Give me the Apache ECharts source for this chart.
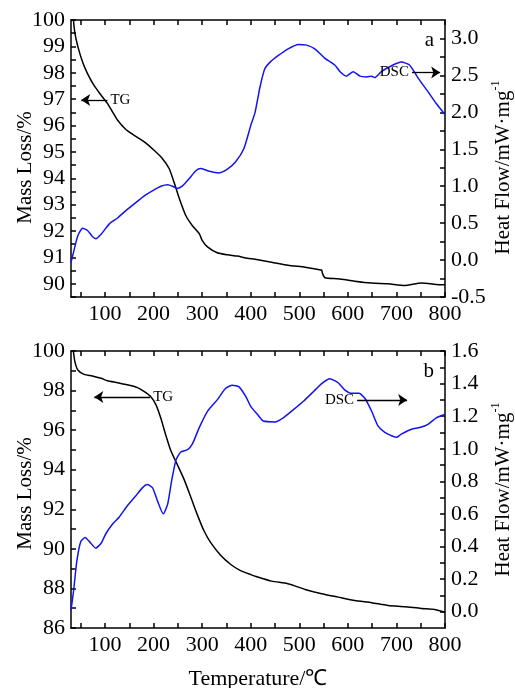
<!DOCTYPE html>
<html>
<head>
<meta charset="utf-8"/>
<title>TG-DSC</title>
<script src="https://cdn.jsdelivr.net/npm/echarts@6/dist/echarts.min.js"></script>
<style>
html,body{margin:0;padding:0;background:#fff}
#main{width:515px;height:688px}
</style>
</head>
<body>
<div id="main"></div>
<script>
// tick values
var tempLabels = [100,200,300,400,500,600,700,800];
var tempTicks = [50,100,150,200,250,300,350,400,450,500,550,600,650,700,750,800];
var massLabelsA = [90,91,92,93,94,95,96,97,98,99,100];
var massTicksA = [89.5,90,90.5,91,91.5,92,92.5,93,93.5,94,94.5,95,95.5,96,96.5,97,97.5,98,98.5,99,99.5,100];
var heatLabelsA = [-0.5,0,0.5,1.0,1.5,2.0,2.5,3.0];
var heatTicksA = [-0.5,-0.25,0,0.25,0.5,0.75,1.0,1.25,1.5,1.75,2.0,2.25,2.5,2.75,3.0];
var massLabelsB = [86,88,90,92,94,96,98,100];
var massTicksB = [86,87,88,89,90,91,92,93,94,95,96,97,98,99,100];
var heatLabelsB = [0,0.2,0.4,0.6,0.8,1.0,1.2,1.4,1.6];
var heatTicksB = [0,0.1,0.2,0.3,0.4,0.5,0.6,0.7,0.8,0.9,1.0,1.1,1.2,1.3,1.4,1.5,1.6];

// panel a - TG (mass loss, %)
var tgaT = [35,38,44,54,64,78,92,105,116,126,143,160,181,201,218,232,242,253,266,280,294,300,311,331,352,372,393,409,443,477,512,539,546,548,553,580,614,649,683,717,751,796,800];
var tgaV = [100,99.5,99.0,98.4,97.97,97.5,97.15,96.84,96.5,96.2,95.85,95.63,95.38,95.06,94.75,94.37,93.86,93.23,92.6,92.2,91.9,91.65,91.4,91.18,91.1,91.05,90.97,90.93,90.82,90.7,90.63,90.54,90.52,90.38,90.23,90.19,90.1,90.03,90.0,89.94,90.03,89.96,89.97];
// panel a - DSC (heat flow, mW/mg)
var dscaT = [30,35,44,54,64,74,81,92,109,126,143,160,181,201,215,229,239,249,259,273,287,297,311,335,352,369,386,400,409,419,429,440,457,477,498,515,532,553,573,584,597,611,625,638,649,655,669,690,710,727,745,765,782,800];
var dscaV = [-0.03,0.1,0.33,0.43,0.4,0.32,0.29,0.35,0.49,0.57,0.67,0.76,0.87,0.95,1.0,1.02,1.0,0.97,1.0,1.1,1.21,1.24,1.21,1.18,1.23,1.33,1.51,1.82,2.0,2.34,2.59,2.68,2.77,2.86,2.92,2.91,2.86,2.73,2.64,2.55,2.49,2.55,2.49,2.48,2.49,2.47,2.55,2.63,2.68,2.64,2.46,2.28,2.12,1.97];

// panel b - TG
var tgbT = [35,38,44,57,74,92,105,126,146,167,181,194,205,215,225,235,249,263,276,290,304,318,338,359,379,400,413,443,477,512,546,580,614,649,683,717,751,779,796,800];
var tgbV = [99.97,99.46,99.04,98.82,98.74,98.62,98.5,98.4,98.29,98.15,97.95,97.7,97.28,96.6,95.76,95.0,94.25,93.5,92.66,91.73,90.9,90.3,89.68,89.21,88.9,88.7,88.59,88.37,88.24,87.95,87.73,87.56,87.39,87.28,87.14,87.08,86.99,86.94,86.82,86.8];
// panel b - DSC
var dscbT = [30,35,42,50,59,68,81,92,102,116,129,146,163,177,187,198,208,220,229,237,246,256,270,280,294,311,331,348,362,376,390,400,414,426,450,467,488,508,529,546,563,580,594,608,623,635,649,662,676,690,700,710,731,748,765,782,800];
var dscbV = [0.01,0.12,0.31,0.43,0.455,0.43,0.39,0.42,0.48,0.54,0.58,0.65,0.71,0.76,0.78,0.76,0.68,0.6,0.66,0.8,0.93,0.98,0.995,1.03,1.13,1.23,1.3,1.37,1.39,1.38,1.32,1.26,1.21,1.17,1.165,1.19,1.24,1.29,1.35,1.4,1.43,1.405,1.36,1.34,1.34,1.31,1.23,1.14,1.1,1.08,1.07,1.09,1.12,1.13,1.15,1.19,1.21];

function pairs(xs, ys) {
    var out = [];
    for (var i = 0; i < xs.length; i++) out.push([xs[i], ys[i]]);
    return out;
}

var FONT = 'Liberation Serif';
var lineSty = {color: '#000', width: 1.5};

function xAxisFor(grid, bottom) {
    return {
        type: 'value', gridIndex: grid, min: 30, max: 800,
        position: bottom ? 'bottom' : 'top',
        name: (bottom && grid == 1) ? 'Temperature/℃' : '',
        nameLocation: 'middle', nameGap: 40, nameMoveOverlap: false,
        nameTextStyle: {fontFamily: FONT, fontSize: 22, color: '#000'},
        axisLine: {show: true, onZero: false, lineStyle: lineSty},
        axisTick: {show: true, inside: true, length: 5, customValues: tempTicks, lineStyle: lineSty},
        axisLabel: {show: bottom, margin: 6, customValues: tempLabels, fontFamily: FONT, fontSize: 22, color: '#000'},
        splitLine: {show: false}
    };
}

// shift = extra padding on the text's far end, moves the rotated name down the page
function yAxisFor(grid, side, min, max, labels, ticks, digits, name, shift) {
    return {
        type: 'value', gridIndex: grid, min: min, max: max, position: side,
        name: name, nameLocation: 'middle', nameRotate: 90, nameMoveOverlap: false,
        nameGap: side == 'left' ? 35 : 45,
        nameTextStyle: {fontFamily: FONT, fontSize: 21, color: '#000', padding: [0, shift, 0, 0],
            rich: {n: {fontFamily: FONT, fontSize: 21, color: '#000'},
                   s: {fontFamily: FONT, fontSize: 12, color: '#000', padding: [0, 0, 14, 0]}}},
        axisLine: {show: true, onZero: false, lineStyle: lineSty},
        axisTick: {show: true, inside: true, length: 5, customValues: ticks, lineStyle: lineSty},
        axisLabel: {margin: 6, customValues: labels, fontFamily: FONT, fontSize: 22, color: '#000',
            formatter: function (v) { return v.toFixed(digits); }},
        splitLine: {show: false}
    };
}

function arrowLine(from, to, text) {
    return {
        silent: true, animation: false, symbol: ['none', 'arrow'], symbolSize: 9,
        lineStyle: {color: '#000', width: 1.3, type: 'solid'},
        label: {show: true, position: 'start', formatter: text, fontFamily: FONT, fontSize: 15, color: '#000', distance: 3},
        data: [[{coord: from}, {coord: to}]]
    };
}

var heatName = '{n|Heat Flow/mW·mg}{s|-1}';

var chart = echarts.init(document.getElementById('main'));
chart.setOption({
    backgroundColor: '#fff',
    animation: false,
    title: [
        {text: 'a', right: 76, top: 25, textStyle: {fontFamily: FONT, fontSize: 21, fontWeight: 'normal', color: '#000'}},
        {text: 'b', right: 76, top: 356, textStyle: {fontFamily: FONT, fontSize: 21, fontWeight: 'normal', color: '#000'}}
    ],
    grid: [
        {left: 71, top: 20, width: 374, height: 277, outerBoundsMode: 'none'},
        {left: 71, top: 351, width: 374, height: 277, outerBoundsMode: 'none'}
    ],
    xAxis: [xAxisFor(0, true), xAxisFor(0, false), xAxisFor(1, true), xAxisFor(1, false)],
    yAxis: [
        yAxisFor(0, 'left', 89.5, 100, massLabelsA, massTicksA, 0, 'Mass Loss/%', 18),
        yAxisFor(0, 'right', -0.5, 3.25, heatLabelsA, heatTicksA, 1, heatName, 18),
        yAxisFor(1, 'left', 86, 100, massLabelsB, massTicksB, 0, 'Mass Loss/%', 8),
        yAxisFor(1, 'right', -0.1, 1.6, heatLabelsB, heatTicksB, 1, heatName, 0)
    ],
    series: [
        {type: 'line', name: 'TG a', xAxisIndex: 0, yAxisIndex: 0, data: pairs(tgaT, tgaV),
         showSymbol: false, smooth: 0.2, lineStyle: {color: '#000', width: 1.5},
         markLine: arrowLine([105, 96.97], [51, 96.97], 'TG')},
        {type: 'line', name: 'DSC a', xAxisIndex: 0, yAxisIndex: 1, data: pairs(dscaT, dscaV),
         showSymbol: false, smooth: 0.2, lineStyle: {color: '#1414f0', width: 1.5},
         markLine: arrowLine([732, 2.54], [790, 2.54], 'DSC')},
        {type: 'line', name: 'TG b', xAxisIndex: 2, yAxisIndex: 2, data: pairs(tgbT, tgbV),
         showSymbol: false, smooth: 0.2, lineStyle: {color: '#000', width: 1.5},
         markLine: arrowLine([193, 97.68], [78, 97.68], 'TG')},
        {type: 'line', name: 'DSC b', xAxisIndex: 2, yAxisIndex: 3, data: pairs(dscbT, dscbV),
         showSymbol: false, smooth: 0.2, lineStyle: {color: '#1414f0', width: 1.5},
         markLine: arrowLine([619, 1.30], [722, 1.30], 'DSC')}
    ]
});
</script>
</body>
</html>
